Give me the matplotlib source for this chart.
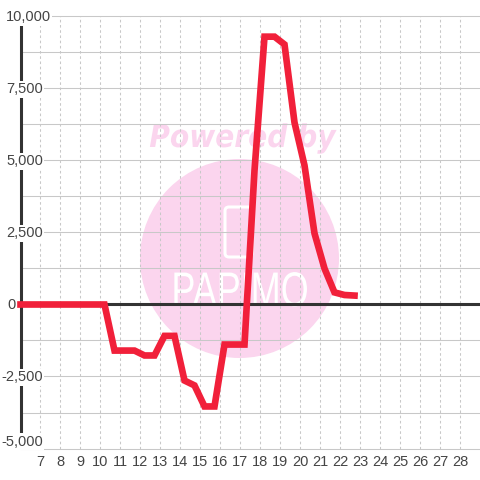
import matplotlib
matplotlib.use("Agg")
import matplotlib.pyplot as plt
from matplotlib.patches import Circle, FancyBboxPatch
from matplotlib.patheffects import AbstractPathEffect
from matplotlib.transforms import Affine2D, blended_transform_factory

# data
hours = [6, 10.2, 10.7, 11.7, 12.2, 12.7, 13.2, 13.7, 14.2, 14.7, 15.2, 15.7,
         16.2, 17.2, 17.7, 18.2, 18.7, 19.2, 19.7, 20.2, 20.7, 21.2, 21.7, 22.2, 22.7]
values = [0, 0, -1600, -1600, -1770, -1770, -1090, -1090, -2640, -2810, -3540, -3540,
          -1390, -1390, 4650, 9300, 9300, 9030, 6320, 4830, 2470, 1250, 420, 330, 310]
x_ticks = list(range(7, 29))
y_major = [-5000, -2500, 0, 2500, 5000, 7500, 10000]
y_minor = [-3750, -1250, 1250, 3750, 6250, 8750]
y_labels = ["-5,000", "-2,500", "0", "2,500", "5,000", "7,500", "10,000"]
y_label_right = [43, 43, 16, 43, 43, 43, 51]
y_label_shift = [7, -1, -1, -1, -1, -1, -1]


# squeezes text sideways around a pixel x, there is no condensed font for these
class Squeeze(AbstractPathEffect):
    def __init__(self, center, factor):
        super().__init__()
        self.center = center
        self.factor = factor

    def draw_path(self, renderer, gc, tpath, affine, rgbFace=None):
        squeeze = Affine2D().translate(-self.center, 0).scale(self.factor, 1).translate(self.center, 0)
        renderer.draw_path(gc, tpath, affine + squeeze, rgbFace)


plt.rcParams["font.family"] = ["Liberation Sans", "DejaVu Sans"]

fig = plt.figure(figsize=(4.8, 4.8), dpi=100, facecolor="white")
ax = fig.add_axes([20.5 / 480, 1 - 448.5 / 480, (480 - 20.5) / 480, 432 / 480])
ax.patch.set_alpha(0)
ax.set_zorder(1)

ax.set_xlim(6, 28.975)
ax.set_ylim(-5000, 10000)

# watermark goes under the grid
pink = "#fbd5ee"
fig.add_artist(Circle((239.5 / 480, 1 - 258.5 / 480), 99.5 / 480, transform=fig.transFigure,
                      facecolor=pink, edgecolor="none", zorder=-2))
fig.text(242.5 / 480, 1 - 147 / 480, "Powered by", color=pink, fontsize=22.5, fontweight="bold",
         fontstyle="italic", family="DejaVu Sans", ha="center", va="baseline", zorder=-2,
         path_effects=[Squeeze(242.5, 0.9)])
fig.add_artist(FancyBboxPatch((229 / 480, 1 - 253 / 480), 19 / 480, 42 / 480,
                              boxstyle="round,pad=%f,rounding_size=%f" % (4 / 480, 4 / 480),
                              transform=fig.transFigure, facecolor="none", edgecolor="white",
                              linewidth=2.2, zorder=-1))
fig.text(240 / 480, 1 - 306 / 480, "PAPIMO", color="white", fontsize=35, ha="center", va="baseline",
         zorder=-1, path_effects=[Squeeze(240, 0.74)])

# grid
ax.set_xticks(x_ticks)
ax.set_yticks(y_major)
ax.set_yticklabels([])
ax.tick_params(length=0, pad=5, labelsize=10.5, labelcolor="#444444")
for x in x_ticks:
    ax.axvline(x, color="#c8c8c8", linewidth=0.75, linestyle=(0, (2.5, 2.5)), zorder=1)
for y in y_major + y_minor:
    ax.axhline(y, color="#c8c8c8", linewidth=0.75, zorder=1, clip_on=False)
ax.axhline(0, color="#333333", linewidth=2.2, zorder=2)

for side in ["top", "right", "bottom"]:
    ax.spines[side].set_visible(False)
ax.spines["left"].set_color("#333333")
ax.spines["left"].set_linewidth(2.2)
ax.spines["left"].set_bounds(-4700, 10000)

# y labels have a white box that cuts the axis and grid
label_trans = blended_transform_factory(fig.transFigure, ax.transData)
for y, text, right, shift in zip(y_major, y_labels, y_label_right, y_label_shift):
    ax.annotate(text, xy=(right / 480, y), xycoords=label_trans, xytext=(0, shift * 0.72),
                textcoords="offset points", ha="right", va="center", fontsize=10.5,
                color="#444444", zorder=3, annotation_clip=False,
                bbox=dict(facecolor="white" if y != 0 else "none", edgecolor="none", pad=0.8))

ax.plot(hours, values, color="#f1203a", linewidth=4.8, zorder=5, clip_on=False,
        solid_capstyle="projecting", solid_joinstyle="miter")

plt.savefig("out.png", dpi=100)
